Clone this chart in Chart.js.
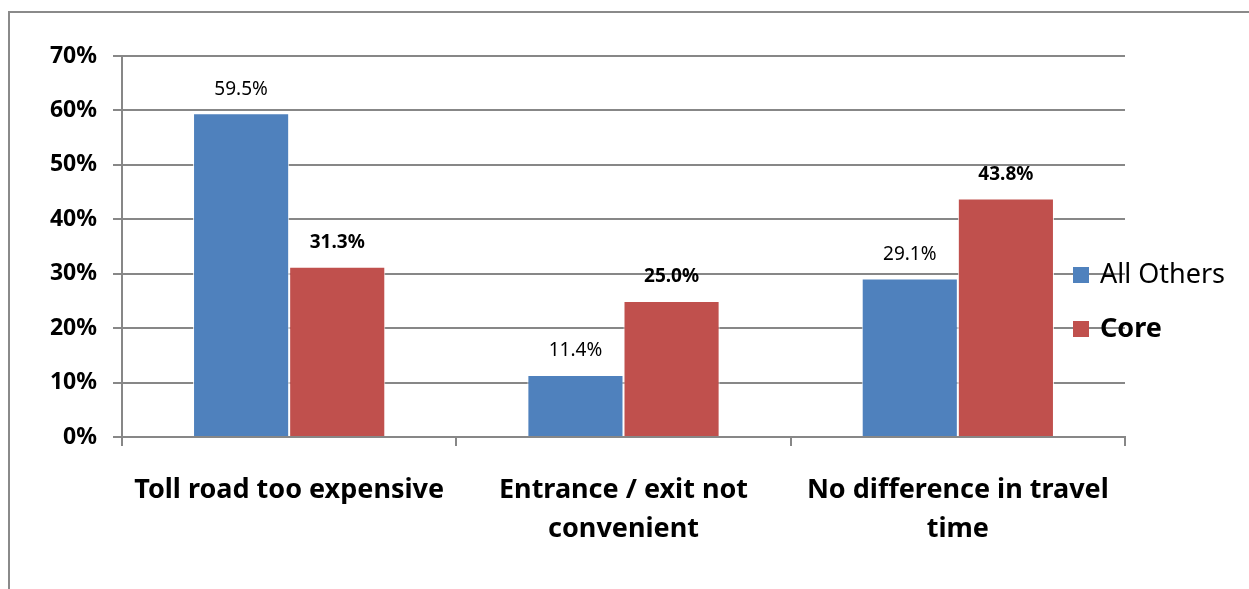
<!DOCTYPE html>
<html>
<head>
<meta charset="utf-8">
<script src="https://cdn.jsdelivr.net/npm/chart.js@4.4.1/dist/chart.umd.min.js"></script>
<style>
  html, body { margin: 0; padding: 0; background: #fff; }
  #wrap { position: relative; width: 1249px; height: 589px; overflow: hidden; }
  #frame {
    position: absolute; left: 8px; top: 11px; width: 1400px; height: 700px;
    border-left: 2px solid #8a8a8a; border-top: 2px solid #8a8a8a;
  }
  #chart { position: absolute; left: 0; top: 0; }
</style>
</head>
<body>
<div id="wrap">
  <div id="frame"></div>
  <canvas id="chart" width="1249" height="589"></canvas>
</div>
<script>
// Datos del gráfico
const categories = [
  ['Toll road too expensive'],
  ['Entrance / exit not', 'convenient'],
  ['No difference in travel', 'time']
];
const allOthers = [59.5, 11.4, 29.1];
const core = [31.3, 25.0, 43.8];
const seriesNames = ['All Others', 'Core'];
const yTicks = [0, 10, 20, 30, 40, 50, 60, 70];

const FONT = "'Noto Sans', 'Open Sans', sans-serif";
const GRID = '#878787';

// Etiquetas de valor encima de cada barra
const valueLabels = {
  id: 'valueLabels',
  afterDatasetsDraw(chart) {
    const ctx = chart.ctx;
    ctx.save();
    ctx.textAlign = 'center';
    ctx.textBaseline = 'middle';
    ctx.fillStyle = '#000';
    chart.data.datasets.forEach((ds, i) => {
      ctx.font = (i === 1 ? 'bold ' : '') + '19px ' + FONT;
      chart.getDatasetMeta(i).data.forEach((bar, j) => {
        ctx.fillText(ds.data[j].toFixed(1) + '%', bar.x, bar.y - 24);
      });
    });
    ctx.restore();
  }
};

// Leyenda dibujada encima del área del gráfico
const sideLegend = {
  id: 'sideLegend',
  afterDraw(chart) {
    const ctx = chart.ctx;
    const rows = [275, 329];
    ctx.save();
    ctx.textBaseline = 'middle';
    chart.data.datasets.forEach((ds, i) => {
      const y = rows[i];
      ctx.fillStyle = ds.backgroundColor;
      ctx.fillRect(1073, y - 8, 16, 16);
      ctx.fillStyle = '#000';
      ctx.font = (i === 1 ? 'bold ' : '') + '27px ' + FONT;
      ctx.fillText(ds.label, 1100, y);
    });
    ctx.restore();
  }
};

new Chart(document.getElementById('chart'), {
  type: 'bar',
  data: {
    labels: categories,
    datasets: [
      { label: seriesNames[0], data: allOthers, backgroundColor: '#4F81BD',
        borderColor: 'rgba(255,255,255,0.85)', borderWidth: 1 },
      { label: seriesNames[1], data: core, backgroundColor: '#C0504D',
        borderColor: 'rgba(255,255,255,0.85)', borderWidth: 1 }
    ]
  },
  options: {
    responsive: false,
    animation: false,
    layout: { padding: { left: 0, right: 124, top: 56, bottom: 0 } },
    datasets: { bar: { categoryPercentage: 0.575, barPercentage: 1 } },
    plugins: {
      legend: { display: false },
      tooltip: { enabled: false }
    },
    scales: {
      x: {
        grid: { display: true, offset: true, drawOnChartArea: false, color: GRID, lineWidth: 2, tickLength: 9 },
        border: { color: GRID, width: 2 },
        ticks: {
          color: '#000', padding: 25, maxRotation: 0,
          font: { family: FONT, size: 27, weight: 'bold', lineHeight: 1.45 }
        },
        afterFit(scale) { scale.height = 152; }
      },
      y: {
        min: 0, max: 70,
        afterBuildTicks(scale) { scale.ticks = yTicks.map(v => ({ value: v })); },
        grid: { color: GRID, lineWidth: 2, tickLength: 9 },
        border: { color: GRID, width: 2 },
        ticks: {
          color: '#000', padding: 16,
          font: { family: FONT, size: 23, weight: 'bold' },
          callback: v => v + '%'
        },
        afterFit(scale) { scale.width = 122; }
      }
    }
  },
  plugins: [valueLabels, sideLegend]
});
</script>
</body>
</html>
